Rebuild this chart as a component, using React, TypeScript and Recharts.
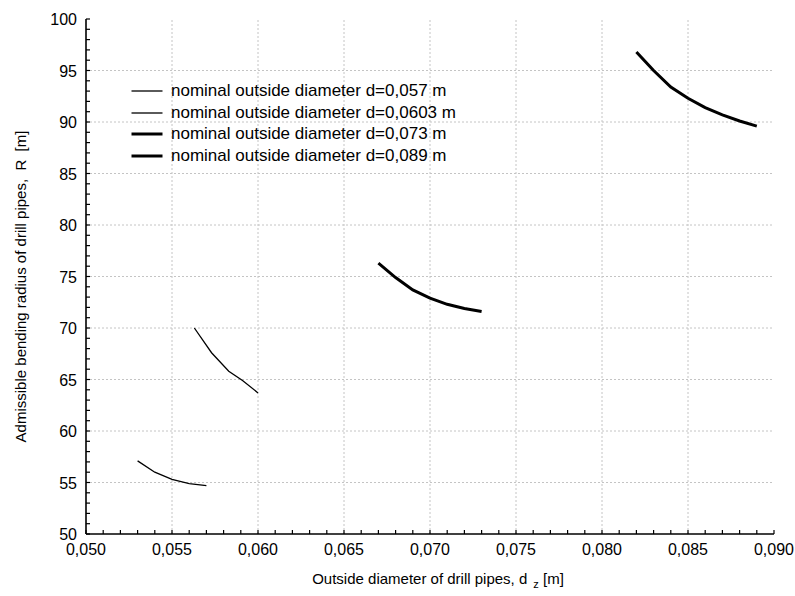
import React from 'react';
import { LineChart, Line, XAxis, YAxis, ReferenceLine, Legend } from 'recharts';

const FONT = '"Liberation Sans", Arial, sans-serif';

// axis ticks
const xMajorTicks = [0.05, 0.055, 0.06, 0.065, 0.07, 0.075, 0.08, 0.085, 0.09];
const yMajorTicks = [50, 55, 60, 65, 70, 75, 80, 85, 90, 95, 100];
const xMinorTicks = Array.from({ length: 41 }, (_, i) => +(0.05 + i * 0.001).toFixed(3));
const yMinorTicks = Array.from({ length: 51 }, (_, i) => 50 + i);

// nominal outside diameter d=0,057 m
const d057X = [0.053, 0.054, 0.055, 0.056, 0.057];
const d057R = [57.1, 56.0, 55.3, 54.9, 54.7];

// nominal outside diameter d=0,0603 m
const d0603X = [0.0563, 0.0573, 0.0583, 0.0591, 0.06];
const d0603R = [70.0, 67.6, 65.8, 64.9, 63.7];

// nominal outside diameter d=0,073 m
const d073X = [0.067, 0.068, 0.069, 0.07, 0.071, 0.072, 0.073];
const d073R = [76.3, 74.9, 73.7, 72.9, 72.3, 71.9, 71.6];

// nominal outside diameter d=0,089 m
const d089X = [0.082, 0.083, 0.084, 0.085, 0.086, 0.087, 0.088, 0.089];
const d089R = [96.8, 95.0, 93.4, 92.3, 91.4, 90.7, 90.1, 89.6];

const toRows = (xs: number[], rs: number[]) => xs.map((x, i) => ({ x, r: rs[i] }));

const series = [
  { name: 'nominal outside diameter d=0,057 m', data: toRows(d057X, d057R), width: 1.3 },
  { name: 'nominal outside diameter d=0,0603 m', data: toRows(d0603X, d0603R), width: 1.3 },
  { name: 'nominal outside diameter d=0,073 m', data: toRows(d073X, d073R), width: 3 },
  { name: 'nominal outside diameter d=0,089 m', data: toRows(d089X, d089R), width: 3 },
];

const fmtX = (v: number) => v.toFixed(3).replace('.', ',');
const isMajorX = (v: number) => Math.round(v * 1000) % 5 === 0;
const isMajorY = (v: number) => Math.round(v) % 5 === 0;

const BottomTick = (props: any) => {
  const { x, y, payload } = props;
  const v = payload.value;
  return (
    <g>
      <line x1={x} y1={y} x2={x} y2={y - 4} stroke="#000" strokeWidth={1.2} />
      {isMajorX(v) && (
        <text x={x} y={y + 21} textAnchor="middle" fontSize={16} fontFamily={FONT} fill="#000">
          {fmtX(v)}
        </text>
      )}
    </g>
  );
};

const TopTick = (props: any) => {
  const { x, y } = props;
  return <line x1={x} y1={y} x2={x} y2={y + 4} stroke="#000" strokeWidth={1.2} />;
};

const LeftTick = (props: any) => {
  const { x, y, payload } = props;
  const v = payload.value;
  return (
    <g>
      <line x1={x} y1={y} x2={x + 4} y2={y} stroke="#000" strokeWidth={1.2} />
      {isMajorY(v) && (
        <text x={x - 9} y={y + 6} textAnchor="end" fontSize={16} fontFamily={FONT} fill="#000">
          {v}
        </text>
      )}
    </g>
  );
};

const RightTick = (props: any) => {
  const { x, y } = props;
  return <line x1={x} y1={y} x2={x - 4} y2={y} stroke="#000" strokeWidth={1.2} />;
};

const XTitle = (props: any) => {
  const { viewBox } = props;
  const cx = viewBox.x + viewBox.width / 2;
  return (
    <text x={cx + 8} y={viewBox.y + 50} textAnchor="middle" fontSize={15} fontFamily={FONT} fill="#000">
      Outside diameter of drill pipes, d
      <tspan dx={6} dy={4} fontSize={11}>z</tspan>
      <tspan dy={-4}> [m]</tspan>
    </text>
  );
};

const YTitle = (props: any) => {
  const { viewBox } = props;
  const cx = viewBox.x + 20;
  const cy = viewBox.y + viewBox.height / 2 + 10;
  return (
    <text
      x={cx}
      y={cy}
      transform={`rotate(-90, ${cx}, ${cy})`}
      textAnchor="middle"
      dominantBaseline="central"
      fontSize={15}
      fontFamily={FONT}
      fill="#000"
      style={{ whiteSpace: 'pre' }}
    >
      {'Admissible bending radius of drill pipes,  R  [m]'}
    </text>
  );
};

const LegendBox = () => (
  <div style={{ fontFamily: FONT, fontSize: 17, color: '#000' }}>
    {series.map((s) => (
      <div key={s.name} style={{ display: 'flex', alignItems: 'center', height: 21.7, whiteSpace: 'nowrap' }}>
        <svg width={43} height={22}>
          <line x1={3.5} x2={34.5} y1={11} y2={11} stroke="#000" strokeWidth={s.width} />
        </svg>
        <span>{s.name}</span>
      </div>
    ))}
  </div>
);

export default function App() {
  const axisLine = { stroke: '#000', strokeWidth: 1.6 };
  return (
    <div style={{ position: 'absolute', left: 0, top: 0, width: 795, height: 596, background: '#fff' }}>
      <LineChart width={795} height={596} margin={{ top: 19, right: 21, left: 0, bottom: 0 }}>
        <XAxis
          xAxisId="b"
          dataKey="x"
          type="number"
          domain={[0.05, 0.09]}
          ticks={xMinorTicks}
          interval={0}
          tickSize={0}
          tickMargin={0}
          tickLine={false}
          tick={BottomTick}
          axisLine={axisLine}
          height={62}
          allowDataOverflow
          label={{ content: XTitle }}
        />
        <XAxis
          xAxisId="t"
          orientation="top"
          type="number"
          domain={[0.05, 0.09]}
          ticks={xMinorTicks}
          interval={0}
          tickSize={0}
          tickMargin={0}
          tickLine={false}
          tick={TopTick}
          axisLine={axisLine}
          height={0}
          allowDataOverflow
        />
        <YAxis
          yAxisId="l"
          type="number"
          domain={[50, 100]}
          ticks={yMinorTicks}
          interval={0}
          tickSize={0}
          tickMargin={0}
          tickLine={false}
          tick={LeftTick}
          axisLine={axisLine}
          width={86}
          allowDataOverflow
          label={{ content: YTitle }}
        />
        <YAxis
          yAxisId="r"
          orientation="right"
          type="number"
          domain={[50, 100]}
          ticks={yMinorTicks}
          interval={0}
          tickSize={0}
          tickMargin={0}
          tickLine={false}
          tick={RightTick}
          axisLine={axisLine}
          width={0}
          allowDataOverflow
        />
        {xMajorTicks.slice(1, -1).map((v) => (
          <ReferenceLine key={`gx${v}`} x={v} xAxisId="b" yAxisId="l" stroke="#c4c4c4" strokeDasharray="2 2" />
        ))}
        {yMajorTicks.slice(1, -1).map((v) => (
          <ReferenceLine key={`gy${v}`} y={v} xAxisId="b" yAxisId="l" stroke="#c4c4c4" strokeDasharray="2 2" />
        ))}
        {series.map((s) => (
          <Line
            key={s.name}
            xAxisId="b"
            yAxisId="l"
            data={s.data}
            dataKey="r"
            name={s.name}
            type="linear"
            stroke="#000"
            strokeWidth={s.width}
            dot={false}
            activeDot={false}
            isAnimationActive={false}
          />
        ))}
        <Legend
          layout="vertical"
          align="center"
          verticalAlign="middle"
          wrapperStyle={{ left: 128, top: 80, width: 'auto' }}
          content={LegendBox}
        />
      </LineChart>
    </div>
  );
}
